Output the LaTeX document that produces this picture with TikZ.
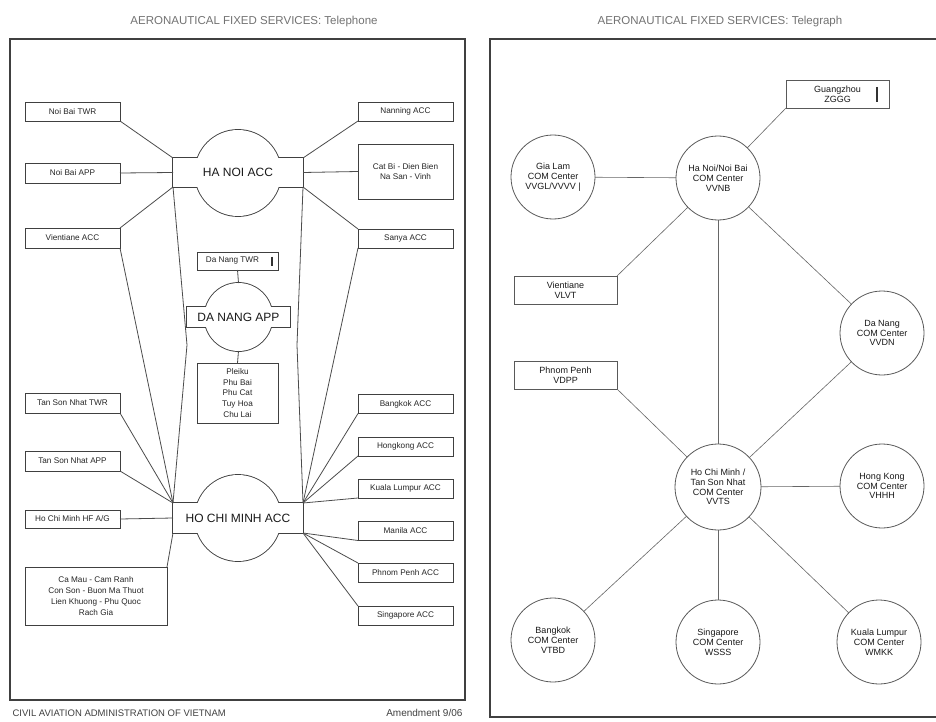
\documentclass[tikz,border=0pt]{standalone}
\usepackage{fontspec}
\setmainfont{Liberation Sans}
\begin{document}
\begin{tikzpicture}[x=1pt,y=-1pt,
  frame/.style={draw=black!75, line width=1.3pt},
  ln/.style={draw=black!70, line width=0.8pt},
  tln/.style={draw=black!60, line width=0.6pt},
  lbox/.style={rectangle, draw=black!75, line width=0.9pt, fill=white,
    inner sep=0pt, outer sep=0pt, minimum width=95pt, minimum height=19pt,
    align=center, text=black!85, font=\fontsize{8.2}{10.8}\selectfont},
  hubc/.style={circle, draw=black!75, line width=1.8pt, inner sep=0pt, outer sep=0pt},
  hubr/.style={rectangle, draw=black!75, line width=1.8pt, inner sep=0pt, outer sep=0pt},
  hubtext/.style={text=black!90, font=\fontsize{12}{13}\selectfont},
  ttl/.style={text=black!55, font=\fontsize{11.5}{12}\selectfont},
  rcirc/.style={circle, draw=black!65, line width=0.8pt, fill=white, inner sep=0pt,
    outer sep=0pt, minimum size=84pt, align=center, text=black!90,
    font=\fontsize{9}{9.8}\selectfont},
  rbox/.style={rectangle, draw=black!65, line width=0.8pt, fill=white, inner sep=0pt,
    outer sep=0pt, minimum width=103pt, minimum height=28pt, align=center,
    text=black!90, font=\fontsize{9}{9.8}\selectfont}
]
\useasboundingbox (0,0) rectangle (936,722);
\fill[white] (0,0) rectangle (936,722);

% ---------------- Telephone panel ----------------
\node[ttl] (ttltel) at (254,22) {AERONAUTICAL FIXED SERVICES: Telephone};
\draw[frame] (10,39) rectangle (465,700);
\node[anchor=west, text=black!75, font=\fontsize{9.5}{10}\selectfont] (foot) at (9,713)
  {CIVIL AVIATION ADMINISTRATION OF VIETNAM};
\node[anchor=east, text=black!75, font=\fontsize{10}{10}\selectfont] (amend) at (466,713)
  {Amendment 9/06};

% HA NOI ACC hub
\node[hubc, minimum size=86pt] (hanoic) at (238,173) {};
\node[hubr, minimum width=130pt, minimum height=29pt] (hanoi) at (238,172.5) {};
\fill[white] (hanoic.center) circle (43pt);
\fill[white] (hanoi.south west) rectangle (hanoi.north east);
\node[hubtext] (hanoit) at (hanoi.center) {HA NOI ACC};

% DA NANG APP hub
\node[hubc, minimum size=68pt] (dananc) at (238.5,317) {};
\node[hubr, minimum width=103pt, minimum height=20pt] (danang) at (238.5,317) {};
\fill[white] (dananc.center) circle (34pt);
\fill[white] (danang.south west) rectangle (danang.north east);
\node[hubtext] (danangt) at (danang.center) {DA NANG APP};

% HO CHI MINH ACC hub
\node[hubc, minimum size=86pt] (hcmc) at (238,518) {};
\node[hubr, minimum width=130pt, minimum height=30pt] (hcm) at (238,518) {};
\fill[white] (hcmc.center) circle (43pt);
\fill[white] (hcm.south west) rectangle (hcm.north east);
\node[hubtext] (hcmt) at (hcm.center) {HO CHI MINH ACC};

% left column
\node[lbox] (nbtwr) at (72.5,111.5) {Noi Bai TWR};
\node[lbox, minimum height=20pt] (nbapp) at (72.5,173) {Noi Bai APP};
\node[lbox, minimum height=20pt] (vtacc) at (72.5,238) {Vientiane ACC};
\node[lbox, minimum height=20pt] (tsntwr) at (72.5,403) {Tan Son Nhat TWR};
\node[lbox, minimum height=20pt] (tsnapp) at (72.5,461) {Tan Son Nhat APP};
\node[lbox, minimum height=18pt] (hcmhf) at (72.5,519) {Ho Chi Minh HF A/G};
\node[lbox, minimum width=142pt, minimum height=58pt] (camau) at (96,596)
  {Ca Mau - Cam Ranh\\Con Son - Buon Ma Thuot\\Lien Khuong - Phu Quoc\\Rach Gia};

% right column
\node[lbox] (nanning) at (405.5,111.5) {Nanning ACC};
\node[lbox, minimum height=55pt] (catbi) at (405.5,171.5) {Cat Bi - Dien Bien\\Na San - Vinh};
\node[lbox] (sanya) at (405.5,238.5) {Sanya ACC};
\node[lbox] (bkacc) at (405.5,404) {Bangkok ACC};
\node[lbox] (hkacc) at (405.5,446.5) {Hongkong ACC};
\node[lbox] (klacc) at (405.5,488.5) {Kuala Lumpur ACC};
\node[lbox] (mnacc) at (405.5,531) {Manila ACC};
\node[lbox] (ppacc) at (405.5,572.5) {Phnom Penh ACC};
\node[lbox] (sgacc) at (405.5,615.5) {Singapore ACC};

% Da Nang group
\node[lbox, minimum width=81pt, minimum height=18pt] (dntwr) at (237.5,261) {Da Nang TWR\hspace{10pt}};
\draw[black!80, line width=1.3pt] ([xshift=-6pt]dntwr.east |- 0,256.5) -- ([xshift=-6pt]dntwr.east |- 0,266);
\node[lbox, minimum width=81pt, minimum height=60pt] (pleiku) at (237.5,393)
  {Pleiku\\Phu Bai\\Phu Cat\\Tuy Hoa\\Chu Lai};

% telephone connectors
\coordinate (bendl) at (187,345);
\coordinate (bendr) at (297,345);
\draw[ln] (nbtwr.south east) -- (hanoi.north west);
\draw[ln] (nbapp.east) -- (hanoi.west);
\draw[ln] (vtacc.north east) -- (hanoi.south west);
\draw[ln] (vtacc.south east) -- (hcm.north west);
\draw[ln] (nanning.south west) -- (hanoi.north east);
\draw[ln] (catbi.west) -- (hanoi.east);
\draw[ln] (sanya.north west) -- (hanoi.south east);
\draw[ln] (sanya.south west) -- (hcm.north east);
\draw[ln] (hanoi.south west) -- (bendl) -- (hcm.north west);
\draw[ln] (hanoi.south east) -- (bendr) -- (hcm.north east);
\draw[ln] (dntwr.south) -- (dananc.north);
\draw[ln] (dananc.south) -- (pleiku.north);
\draw[ln] (tsntwr.south east) -- (hcm.north west);
\draw[ln] (tsnapp.south east) -- (hcm.north west);
\draw[ln] (hcmhf.east) -- (hcm.west);
\draw[ln] (camau.north east) -- (hcm.south west);
\draw[ln] (bkacc.south west) -- (hcm.north east);
\draw[ln] (hkacc.south west) -- (hcm.north east);
\draw[ln] (klacc.south west) -- (hcm.north east);
\draw[ln] (mnacc.south west) -- (hcm.south east);
\draw[ln] (ppacc.north west) -- (hcm.south east);
\draw[ln] (sgacc.north west) -- (hcm.south east);

% ---------------- Telegraph panel ----------------
\node[ttl] (ttltlg) at (720,22) {AERONAUTICAL FIXED SERVICES: Telegraph};
\draw[frame] (937,39) -- (490,39) -- (490,717) -- (937,717);

\node[rcirc] (gialam) at (553,177) {Gia Lam\\COM Center\\VVGL/VVVV |};
\node[rcirc] (hanoicom) at (718,178) {Ha Noi/Noi Bai\\COM Center\\VVNB};
\node[rbox] (guangzhou) at (837.5,94) {Guangzhou\\ZGGG};
\draw[black!80, line width=1.3pt] (877,87) -- (877,102);
\node[rbox] (vientiane) at (565.5,290) {Vientiane\\VLVT};
\node[rbox] (phnompenh) at (565.5,375) {Phnom Penh\\VDPP};
\node[rcirc] (danangcom) at (882,333) {Da Nang\\COM Center\\VVDN};
\node[rcirc, minimum size=86pt] (hcmcom) at (718,487) {Ho Chi Minh /\\Tan Son Nhat\\COM Center\\VVTS};
\node[rcirc] (hkcom) at (882,486) {Hong Kong\\COM Center\\VHHH};
\node[rcirc] (bkcom) at (553,640) {Bangkok\\COM Center\\VTBD};
\node[rcirc] (sgcom) at (718,642) {Singapore\\COM Center\\WSSS};
\node[rcirc] (klcom) at (879,642) {Kuala Lumpur\\COM Center\\WMKK};

\draw[tln] (gialam) -- (hanoicom);
\draw[tln] (hanoicom) -- (guangzhou.south west);
\draw[tln] (hanoicom) -- (vientiane.north east);
\draw[tln] (hanoicom) -- (danangcom);
\draw[tln] (hanoicom) -- (hcmcom);
\draw[tln] (phnompenh.south east) -- (hcmcom);
\draw[tln] (danangcom) -- (hcmcom);
\draw[tln] (hcmcom) -- (hkcom);
\draw[tln] (hcmcom) -- (bkcom);
\draw[tln] (hcmcom) -- (sgcom);
\draw[tln] (hcmcom) -- (klcom);
\end{tikzpicture}
\end{document}
